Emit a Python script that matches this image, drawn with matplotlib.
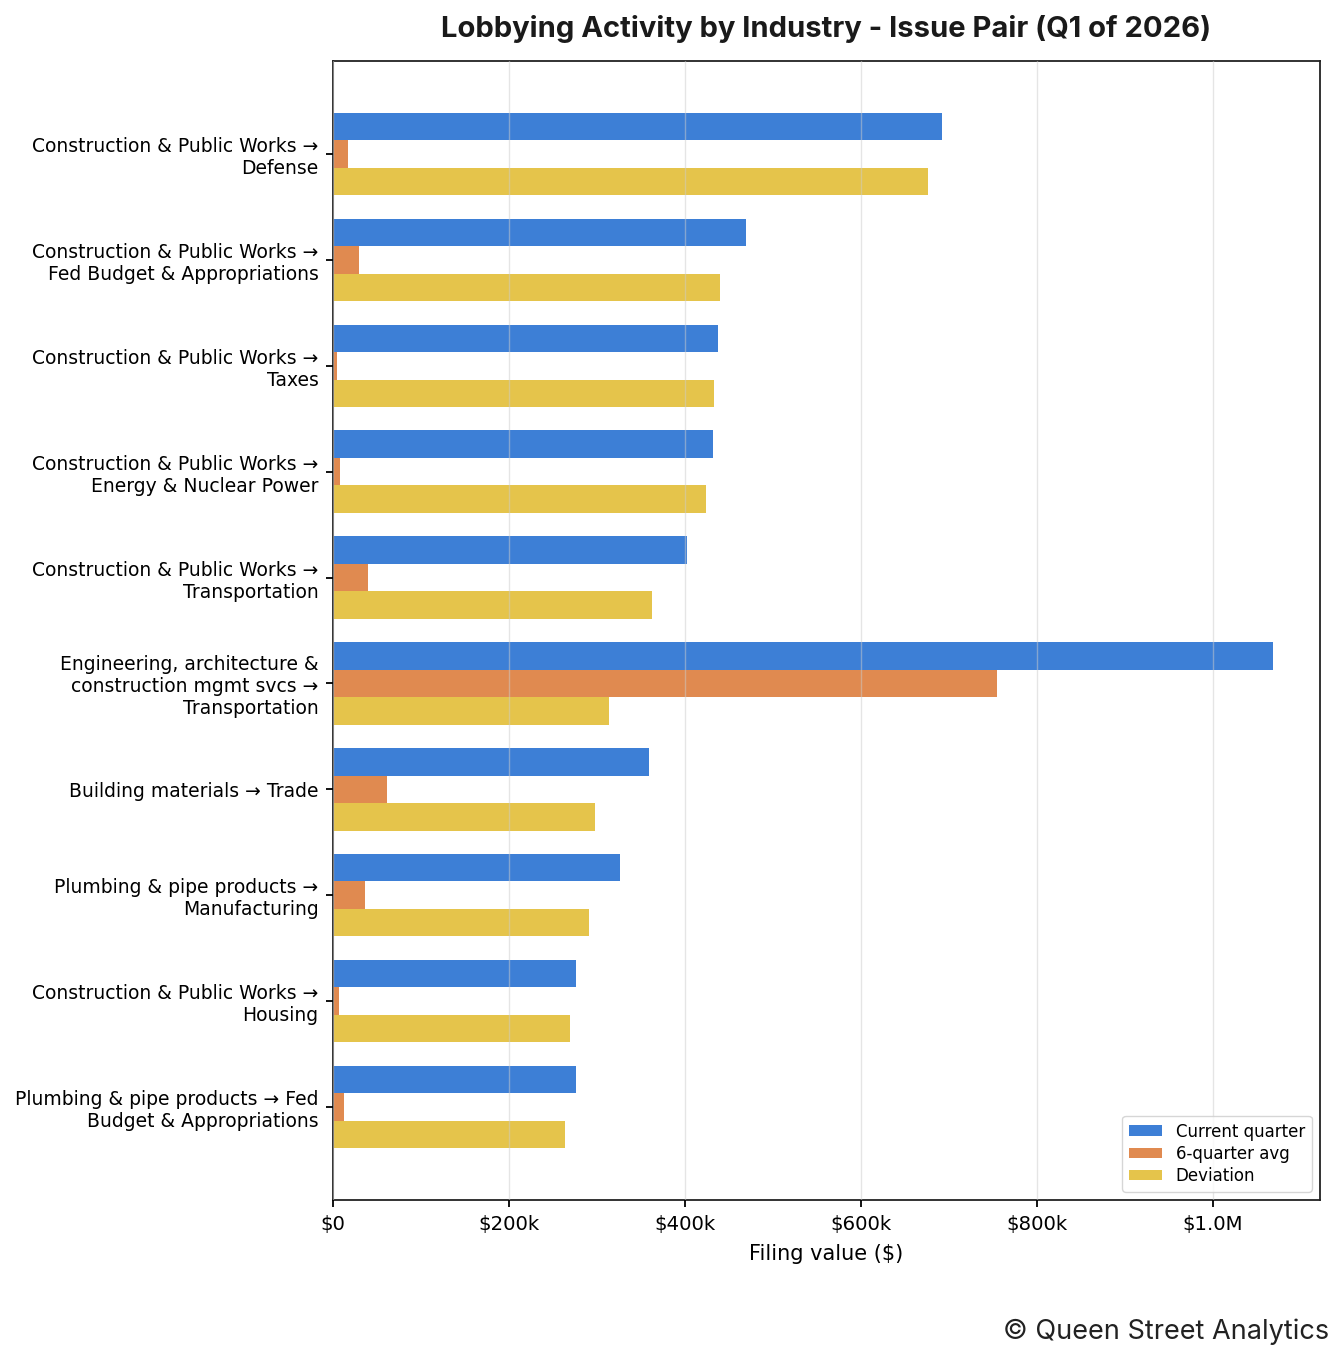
import matplotlib
matplotlib.use("Agg")
import matplotlib.pyplot as plt
import numpy as np
from matplotlib.ticker import FuncFormatter

# data
labels = [
    "Construction & Public Works →\nDefense",
    "Construction & Public Works →\nFed Budget & Appropriations",
    "Construction & Public Works →\nTaxes",
    "Construction & Public Works →\nEnergy & Nuclear Power",
    "Construction & Public Works →\nTransportation",
    "Engineering, architecture &\nconstruction mgmt svcs →\nTransportation",
    "Building materials → Trade",
    "Plumbing & pipe products →\nManufacturing",
    "Construction & Public Works →\nHousing",
    "Plumbing & pipe products → Fed\nBudget & Appropriations",
]
current_q = [692000, 469000, 437500, 432000, 402000, 1068000, 359000, 326000, 276000, 276000]
avg_6q = [17000, 30000, 4500, 8000, 40000, 754500, 61000, 36000, 7000, 12500]
deviation = [676000, 440000, 433000, 424000, 362000, 313600, 298000, 291000, 269000, 264000]

fig = plt.figure(figsize=(13.44, 13.59), dpi=100)
ax = fig.add_axes([0.2478, 0.1170, 0.9821 - 0.2478, 0.9551 - 0.1170])

y = np.arange(len(labels))
h = 0.26
ax.barh(y - h, current_q, height=h, color="#3d7fd6", label="Current quarter")
ax.barh(y, avg_6q, height=h, color="#e08a50", label="6-quarter avg")
ax.barh(y + h, deviation, height=h, color="#e5c44b", label="Deviation")

ax.set_yticks(y)
ax.set_yticklabels(labels, fontsize=13.5)
ax.invert_yaxis()
ax.set_xlim(0, 1121600)


def fmt(v, pos):
    if v == 0:
        return "$0"
    if v >= 1e6:
        return f"${v/1e6:.1f}M"
    return f"${v/1e3:.0f}k"


ax.xaxis.set_major_formatter(FuncFormatter(fmt))
ax.tick_params(axis="x", labelsize=14.25, length=5, width=1.3, pad=6)
ax.tick_params(axis="y", length=5, width=1.3, pad=5.5)
ax.grid(axis="x", color="#cccccc", alpha=0.5, linewidth=1)
ax.set_axisbelow(False)
for s in ax.spines.values():
    s.set_color("#222222")
    s.set_linewidth(1.3)

ax.set_xlabel("Filing value ($)", fontsize=15, labelpad=7)
ax.set_title("Lobbying Activity by Industry - Issue Pair (Q1 of 2026)",
             fontsize=21, fontweight="bold", family="Inter", pad=17, color="#1a1a1a")
ax.legend(loc="lower right", fontsize=12, labelspacing=0.25, handlelength=2.0,
          handleheight=0.6, borderpad=0.4)

fig.text(0.989, 0.010, "© Queen Street Analytics", ha="right", va="bottom",
         fontsize=19.5, family="Inter", color="#222222")

fig.savefig("out.png", dpi=100)
